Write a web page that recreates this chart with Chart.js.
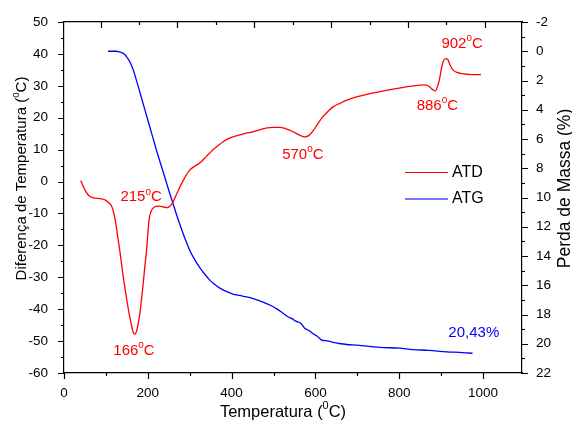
<!DOCTYPE html>
<html>
<head>
<meta charset="utf-8">
<script src="https://cdn.jsdelivr.net/npm/chart.js@4.4.1/dist/chart.umd.min.js"></script>
<style>
html,body{margin:0;padding:0;background:#fff;}
#wrap{width:572px;height:423px;position:relative;}
</style>
</head>
<body>
<div id="wrap"><canvas id="c" width="572" height="423"></canvas></div>
<script>
// ---- Data ----
const atdTemp = [40,45,50,56,62,70,80,90,100,108,114,120,126,133,141,150,156,161,165,169,173,177,181,185,189,193,197,200,203,207,213,220,228,236,244,250,256,262,270,277,289,300,312,324,340,355,370,379,395,420,440,451,470,484,500,515,530,547,560,575,584,594,605,617,630,642,660,675,700,725,752,775,800,825,850,862,872,880,886,891,896,900,905,911,916,921,928,938,950,965,980,995];
const atdValue = [0.3,-1.2,-2.6,-3.9,-4.7,-5.1,-5.3,-5.4,-5.9,-6.8,-7.8,-10.5,-15.2,-21.5,-29.5,-37.2,-41.8,-45,-47.2,-47.8,-47,-44.6,-41.4,-36.8,-32,-26.5,-21.5,-16.5,-12,-9.6,-8.3,-7.8,-7.7,-7.9,-8.2,-8.0,-7.3,-5.9,-3.6,-1.6,1.4,3.6,4.8,5.8,7.9,9.9,11.5,12.4,13.6,14.6,15.3,15.6,16.3,16.8,17.0,17.0,16.5,15.6,14.7,14.0,14.4,15.8,18.0,20.2,22.0,23.4,24.6,25.5,26.6,27.4,28.1,28.7,29.3,29.8,30.2,30.3,29.7,28.8,28.4,29.6,32.0,35.0,37.6,38.5,38.2,36.6,35.0,34.2,33.8,33.6,33.5,33.5];

const atgTemp = [105,125,132,143,150,157,165,175,190,205,220,235,250,260,270,281,290,300,312,324,336,348,360,372,387,403,420,436,455,475,495,510,522,534,545,553,565,575,585,594,605,615,628,642,660,675,700,754,800,832,870,913,950,975];
const atgValue = [0,0,0.04,0.17,0.4,0.72,1.25,2.2,3.7,5.2,6.7,8.1,9.5,10.4,11.3,12.2,12.9,13.6,14.25,14.8,15.25,15.65,15.95,16.2,16.42,16.6,16.7,16.8,16.95,17.15,17.4,17.65,17.9,18.15,18.3,18.45,18.6,18.95,19.1,19.3,19.5,19.75,19.8,19.9,20.0,20.05,20.1,20.25,20.3,20.4,20.45,20.55,20.6,20.65];

const seriesLabels = ['ATD','ATG'];
const xTickLabels = [0,200,400,600,800,1000];
const leftTickLabels = [-60,-50,-40,-30,-20,-10,0,10,20,30,40,50];
const rightTickLabels = [-2,0,2,4,6,8,10,12,14,16,18,20,22];
const xTitle = 'Temperatura (⁰C)';
const leftTitle = 'Diferença de Temperatura (⁰C)';
const rightTitle = 'Perda de Massa (%)';
const noteTexts = ['166⁰C','215⁰C','570⁰C','886⁰C','902⁰C','20,43%'];
const noteTemp = [167, 184, 570, 891, 950, 978];
const noteLeftValue = [-53.1, -4.9, 8.3, 23.7, 43.1, -47.5];

// ---- Styles / layout ----
const FONT = "'Liberation Sans', Arial, sans-serif";
const RED = '#ff0000', BLUE = '#0000ff';
const noteColors = [RED, RED, RED, RED, RED, BLUE];

function drawRich(ctx, text, x, y, size, color, align) {
  const supSize = size * 0.66;
  const parts = [];
  let buf = '';
  for (const ch of text) {
    if (ch === '⁰') { if (buf) parts.push({t: buf, s: false}); buf=''; parts.push({t:'0', s:true}); }
    else buf += ch;
  }
  if (buf) parts.push({t: buf, s: false});
  let total = 0;
  for (const p of parts) {
    ctx.font = (p.s ? supSize : size) + 'px ' + FONT;
    p.w = ctx.measureText(p.t).width;
    total += p.w;
  }
  let cx = align === 'center' ? x - total/2 : (align === 'right' ? x - total : x);
  ctx.fillStyle = color;
  ctx.textBaseline = 'middle';
  ctx.textAlign = 'left';
  for (const p of parts) {
    ctx.font = (p.s ? supSize : size) + 'px ' + FONT;
    ctx.fillText(p.t, cx, p.s ? y - size*0.36 : y);
    cx += p.w;
  }
}

const decorPlugin = {
  id: 'decor',
  afterDraw(chart) {
    const ctx = chart.ctx;
    const ca = chart.chartArea;
    const s = chart.scales;
    ctx.save();
    ctx.strokeStyle = '#000';
    ctx.lineWidth = 1.2;
    ctx.beginPath();
    // left axis ticks (outward)
    for (let v = -60; v <= 50; v += 5) {
      const py = Math.round(s.y.getPixelForValue(v)) + 0.5;
      const len = (v % 10 === 0) ? 6 : 3;
      ctx.moveTo(ca.left - len, py); ctx.lineTo(ca.left, py);
    }
    // right axis ticks (outward)
    for (let v = -2; v <= 22; v += 1) {
      const py = Math.round(s.y2.getPixelForValue(v)) + 0.5;
      const len = (v % 2 === 0) ? 6 : 3;
      ctx.moveTo(ca.right, py); ctx.lineTo(ca.right + len, py);
    }
    // bottom axis ticks (outward)
    for (let v = 0; v <= s.x.max; v += 100) {
      const px = Math.round(s.x.getPixelForValue(v)) + 0.5;
      const len = (v % 200 === 0) ? 6 : 3;
      ctx.moveTo(px, ca.bottom); ctx.lineTo(px, ca.bottom + len);
    }
    // top axis ticks (inward)
    for (let v = 0; v <= s.xTop.max; v += 0.5) {
      const px = Math.round(s.xTop.getPixelForValue(v)) + 0.5;
      const len = (Math.abs(v - Math.round(v)) < 1e-6) ? 6 : 3;
      ctx.moveTo(px, ca.top); ctx.lineTo(px, ca.top + len);
    }
    ctx.stroke();

    // annotations
    for (let i = 0; i < noteTexts.length; i++) {
      const px = s.x.getPixelForValue(noteTemp[i]);
      const py = s.y.getPixelForValue(noteLeftValue[i]);
      drawRich(ctx, noteTexts[i], px, py, 15, noteColors[i], 'center');
    }

    // axis titles
    drawRich(ctx, xTitle, (ca.left + ca.right)/2 - 10, ca.bottom + 39, 16.5, '#000', 'center');
    ctx.save();
    ctx.translate(22, (ca.top + ca.bottom)/2 - 19);
    ctx.rotate(-Math.PI/2);
    drawRich(ctx, leftTitle, 0, 0, 15, '#000', 'center');
    ctx.restore();
    ctx.save();
    ctx.translate(ca.right + 43, (ca.top + ca.bottom)/2 - 9);
    ctx.rotate(-Math.PI/2);
    drawRich(ctx, rightTitle, 0, 0, 17.5, '#000', 'center');
    ctx.restore();

    // legend
    const lx0 = ca.right - 117, lx1 = ca.right - 74;
    const ly = [ca.top + 150.5, ca.top + 177];
    const lcol = [RED, 'rgb(120,120,255)'];
    const lw = [1.2, 2.2];
    for (let i = 0; i < seriesLabels.length; i++) {
      ctx.strokeStyle = lcol[i];
      ctx.lineWidth = lw[i];
      ctx.beginPath();
      ctx.moveTo(lx0, ly[i]); ctx.lineTo(lx1, ly[i]);
      ctx.stroke();
      drawRich(ctx, seriesLabels[i], lx1 + 4, ly[i], 16, '#000', 'left');
    }
    ctx.restore();
  }
};

const tickFont = {family: FONT, size: 13.5};
const plain = v => String(v);

new Chart(document.getElementById('c'), {
  type: 'line',
  data: {
    datasets: [
      {label: seriesLabels[0], data: atdTemp.map((t,i)=>({x:t, y:atdValue[i]})), xAxisID:'x', yAxisID:'y',
       borderColor: RED, borderWidth: 1.3, pointRadius: 0, cubicInterpolationMode: 'monotone', fill: false},
      {label: seriesLabels[1], data: atgTemp.map((t,i)=>({x:t, y:atgValue[i]})), xAxisID:'x', yAxisID:'y2',
       borderColor: BLUE, borderWidth: 1.3, pointRadius: 0, cubicInterpolationMode: 'monotone', fill: false}
    ]
  },
  options: {
    responsive: false,
    animation: false,
    devicePixelRatio: 1,
    layout: {padding: 0},
    plugins: {legend: {display: false}, tooltip: {enabled: false}},
    scales: {
      x: {
        type: 'linear', position: 'bottom', min: 0, max: 1093,
        afterBuildTicks: sc => { sc.ticks = xTickLabels.map(v => ({value: v})); },
        afterFit: sc => { sc.height = 50; },
        grid: {display: false},
        border: {display: true, color: '#000', width: 1.2},
        ticks: {font: tickFont, color: '#000', padding: 4, maxRotation: 0, autoSkip: false, callback: plain}
      },
      xTop: {
        type: 'linear', position: 'top', min: -0.4767, max: 5.484,
        afterFit: sc => { sc.height = 22; },
        grid: {display: false},
        border: {display: true, color: '#000', width: 1.2},
        ticks: {display: false}
      },
      y: {
        type: 'linear', position: 'left', min: -60, max: 50,
        afterBuildTicks: sc => { sc.ticks = leftTickLabels.map(v => ({value: v})); },
        afterFit: sc => { sc.width = 64; },
        grid: {display: false},
        border: {display: true, color: '#000', width: 1.2},
        ticks: {font: tickFont, color: '#000', padding: 8, autoSkip: false, callback: plain}
      },
      y2: {
        type: 'linear', position: 'right', min: -2, max: 22, reverse: true,
        afterBuildTicks: sc => { sc.ticks = rightTickLabels.map(v => ({value: v})); },
        afterFit: sc => { sc.width = 50; },
        grid: {display: false},
        border: {display: true, color: '#000', width: 1.2},
        ticks: {font: tickFont, color: '#000', padding: 6, autoSkip: false, callback: plain}
      }
    }
  },
  plugins: [decorPlugin]
});
</script>
</body>
</html>
